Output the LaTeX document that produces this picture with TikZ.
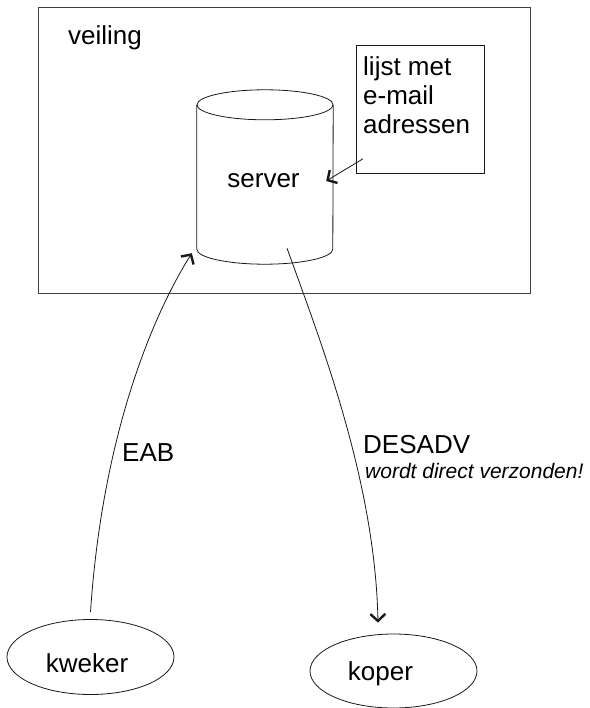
\documentclass[tikz,border=0pt]{standalone}
\usepackage{fontspec}
\setmainfont{Liberation Sans}
\usetikzlibrary{arrows.meta,shapes.geometric}
\begin{document}
\begin{tikzpicture}[x=1pt,y=1pt,
  lbl/.style={font=\fontsize{26}{29}\selectfont, inner sep=0pt},
  note/.style={font=\fontsize{21}{25}\selectfont\itshape, inner sep=0pt},
  frame/.style={draw=black!75, line width=0.9pt},
  thin/.style={draw=black!90, line width=0.8pt},
  actor/.style={ellipse, thin, minimum width=167pt, minimum height=75pt, inner sep=0pt},
  conn/.style={draw=black!90, line width=0.8pt, -{Straight Barb[length=7pt,width=15pt,line width=2.4pt]}}]
\useasboundingbox (0,0) rectangle (589,-708);
% outer box
\node[frame, minimum width=492pt, minimum height=286pt, anchor=north west, inner sep=0pt] (veiling) at (38,-7) {};
\node[lbl, anchor=base west] (veilingtxt) at (68,-45) {veiling};
% lijst box
\node[thin, minimum width=128pt, minimum height=128pt, anchor=north west, inner sep=0pt] (lijst) at (356,-45) {};
\node[lbl, anchor=north west, align=left] (lijsttxt) at (363,-56.4) {lijst met\\e-mail\\adressen};
% server cylinder
\node[minimum width=136pt, minimum height=144pt, inner sep=0pt] (server) at (265,-177) {};
\draw[thin] (server.north) ellipse [x radius=68pt, y radius=15pt];
\draw[thin] (server.north west) -- (server.south west)
  arc [start angle=180, end angle=360, x radius=68pt, y radius=15pt] -- (server.north east);
\node[lbl, anchor=base] (servertxt) at (263.5,-188) {server};
% actors
\node[actor] (kweker) at (90.5,-657) {};
\node[lbl, anchor=base] (kwekertxt) at (87,-672) {kweker};
\node[actor, minimum height=74pt] (koper) at (393.5,-671) {};
\node[lbl, anchor=base] (kopertxt) at (380.5,-680) {koper};
% connectors
\draw[conn] ([xshift=7pt,yshift=15pt]lijst.south west) -- ([xshift=-7pt,yshift=-4pt]server.east);
\draw[conn] ([yshift=7pt]kweker.north) .. controls (102,-440) and (150,-320) .. ([xshift=-5pt,yshift=-4pt]server.south west);
\draw[conn] ([xshift=22pt,yshift=1pt]server.south) .. controls (320,-340) and (375,-480) .. ([xshift=-15.5pt,yshift=11pt]koper.north);
% labels
\node[lbl, anchor=base west] (eab) at (122,-461) {EAB};
\node[lbl, anchor=base west] (desadv) at (363,-453) {DESADV};
\node[note, anchor=base west] (desadvnote) at (365,-478) {wordt direct verzonden!};
\end{tikzpicture}
\end{document}
